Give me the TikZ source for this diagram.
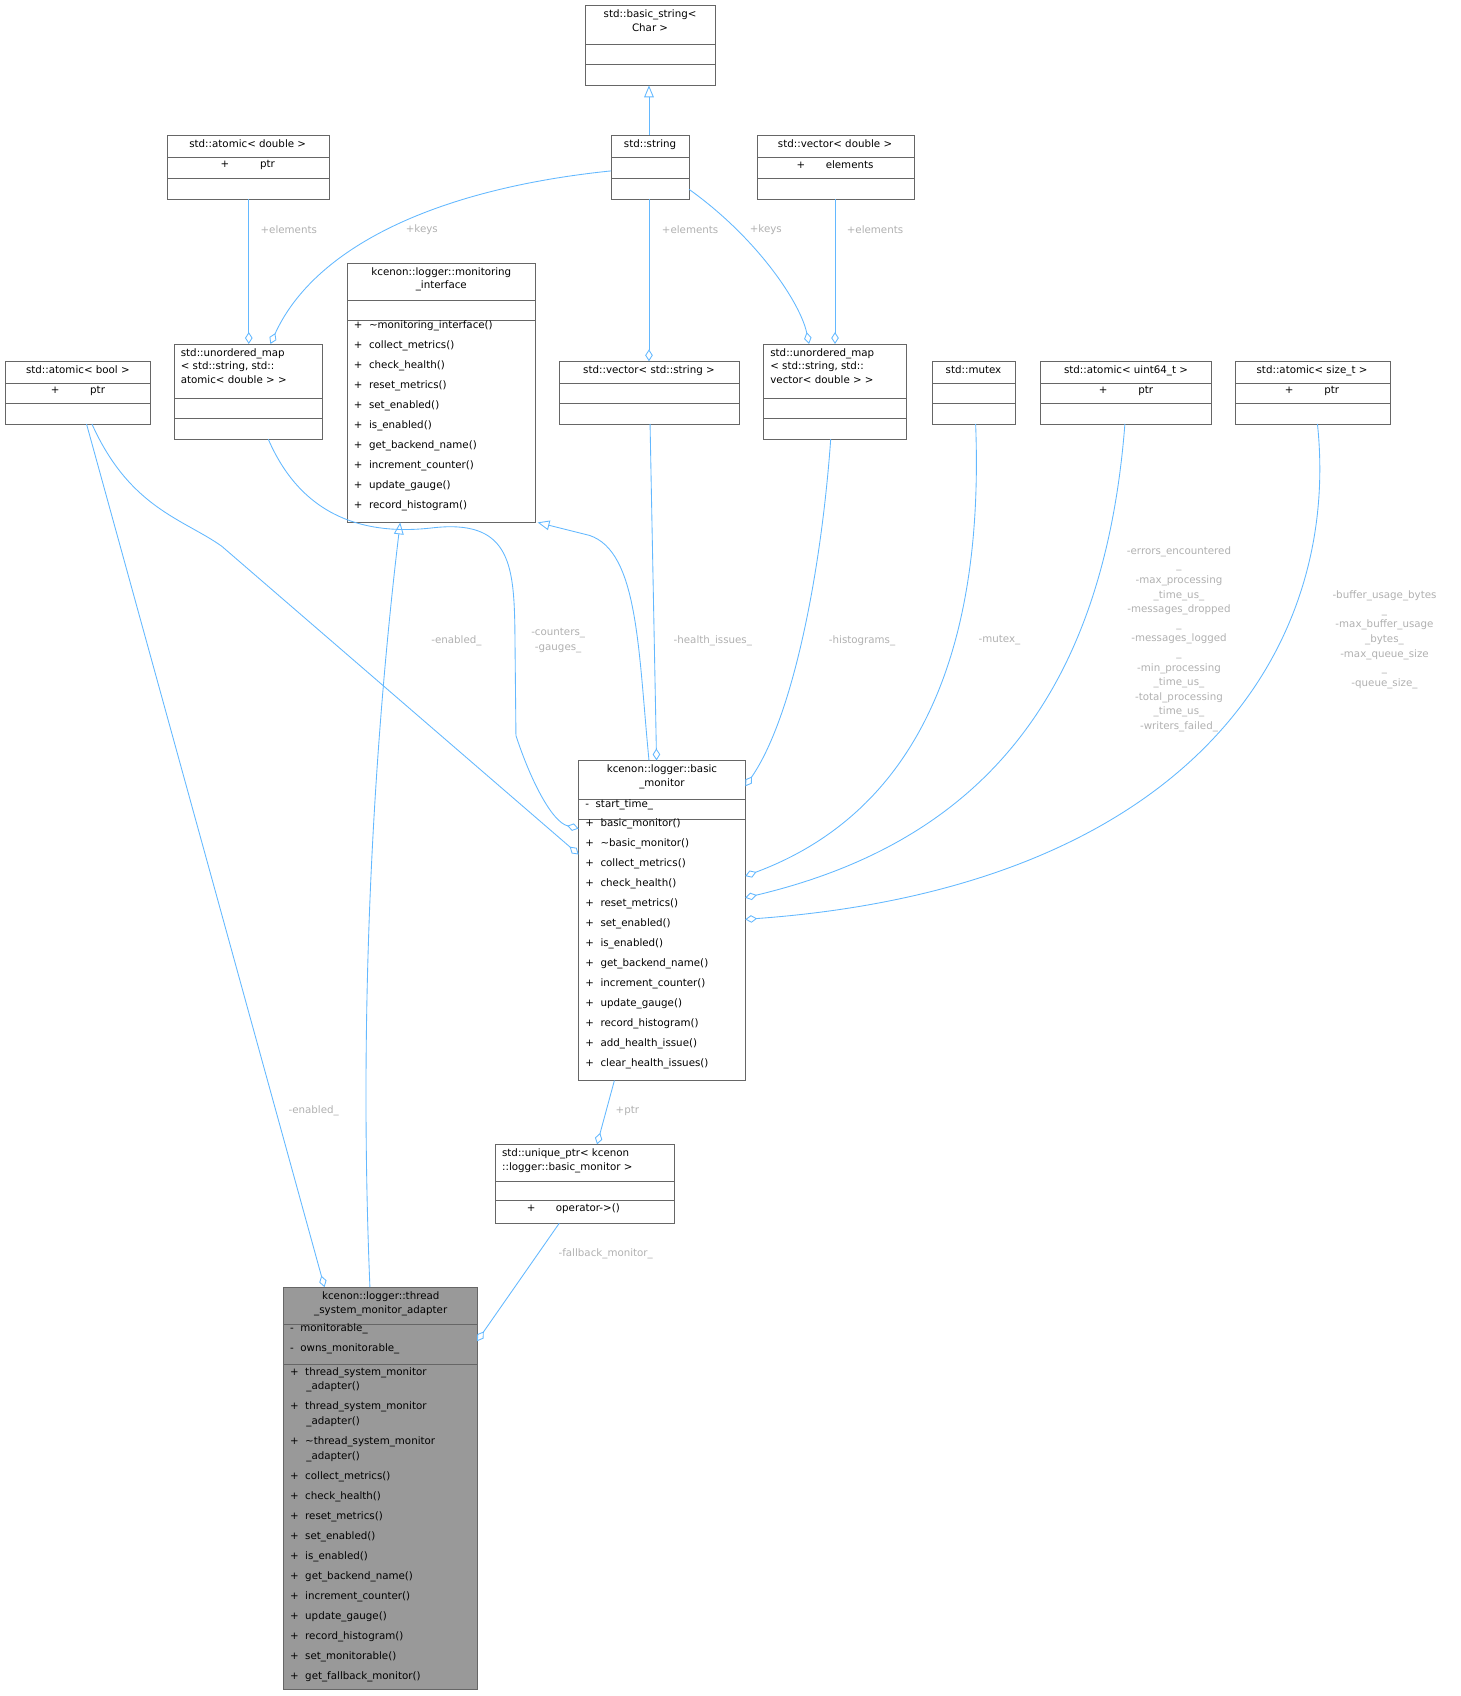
\documentclass[tikz,border=0pt]{standalone}
\usepackage{fontspec}
\setmainfont{DejaVu Sans}
\usetikzlibrary{arrows.meta}
\definecolor{edge}{HTML}{63B8FF}
\definecolor{lbl}{HTML}{B0B0B0}
\definecolor{bx}{HTML}{666666}
\newcommand\cls[7]{\draw[bx,fill=#7] (#1,#2) rectangle (#3,#4); \draw[bx,fill=#7] (#1,#4) rectangle (#3,#5); \draw[bx,fill=#7] (#1,#5) rectangle (#3,#6);}
\tikzset{
 ttl/.style={font=\fontsize{9.5}{12.5}\selectfont, align=center, inner sep=0pt, anchor=north},
 mem/.style={font=\fontsize{9.5}{18.5}\selectfont, align=left, inner sep=0pt, anchor=north west},
 e/.style={draw=edge, line width=0.8pt},
 agg/.style={e, -{Diamond[open,length=11,width=7]}},
 inh/.style={e, -{Triangle[open,length=11,width=9]}},
 lb/.style={text=lbl, font=\fontsize{9.5}{13.5}\selectfont, align=center, inner sep=1pt}
}
\begin{document}
\begin{tikzpicture}[x=1pt,y=-1pt]
\useasboundingbox (0,0) rectangle (1350,1568);
% boxes
\cls{541}{5}{661}{41}{59}{79}{white}
\node[ttl] (bs) at (601,9) {std::basic\_string\textless\\Char \textgreater};
\cls{565}{125}{637}{145}{165}{184}{white}
\node[ttl] (st) at (601,129) {std::string};
\cls{155}{125}{304}{145}{165}{184}{white}
\node[ttl] (ad) at (229,129) {std::atomic\textless{} double \textgreater};
\node[ttl] at (229,148) {+\hspace{3em}ptr};
\cls{700}{125}{845}{145}{165}{184}{white}
\node[ttl] (vd) at (772,129) {std::vector\textless{} double \textgreater};
\node[ttl] at (772,148) {+\hspace{2em}elements};
\cls{321}{243}{495}{278}{296}{483}{white}
\node[ttl] (mi) at (408,247) {kcenon::logger::monitoring\\\_interface};
\node[mem] at (327,296) {+\ \ \textasciitilde monitoring\_interface()\\+\ \ collect\_metrics()\\+\ \ check\_health()\\+\ \ reset\_metrics()\\+\ \ set\_enabled()\\+\ \ is\_enabled()\\+\ \ get\_backend\_name()\\+\ \ increment\_counter()\\+\ \ update\_gauge()\\+\ \ record\_histogram()};
\cls{161}{318}{298}{368}{387}{406}{white}
\node[ttl,align=left,anchor=north west] (ua) at (167,322) {std::unordered\_map\\\textless{} std::string, std::\\atomic\textless{} double \textgreater{} \textgreater};
\cls{5}{334}{139}{354}{373}{392}{white}
\node[ttl] (ab) at (72,338) {std::atomic\textless{} bool \textgreater};
\node[ttl] at (72,357) {+\hspace{3em}ptr};
\cls{517}{334}{683}{354}{373}{392}{white}
\node[ttl] (vs) at (600,338) {std::vector\textless{} std::string \textgreater};
\cls{706}{318}{838}{368}{387}{406}{white}
\node[ttl,align=left,anchor=north west] (uv) at (712,322) {std::unordered\_map\\\textless{} std::string, std::\\vector\textless{} double \textgreater{} \textgreater};
\cls{862}{334}{939}{354}{373}{392}{white}
\node[ttl] (mx) at (900,338) {std::mutex};
\cls{962}{334}{1120}{354}{373}{392}{white}
\node[ttl] (au) at (1041,338) {std::atomic\textless{} uint64\_t \textgreater};
\node[ttl] at (1041,357) {+\hspace{3em}ptr};
\cls{1142}{334}{1285}{354}{373}{392}{white}
\node[ttl] (az) at (1213,338) {std::atomic\textless{} size\_t \textgreater};
\node[ttl] at (1213,357) {+\hspace{3em}ptr};
\cls{535}{703}{689}{739}{757}{999}{white}
\node[ttl] (bm) at (612,707) {kcenon::logger::basic\\\_monitor};
\node[mem] at (541,739) {-\ \ start\_time\_};
\node[mem] at (541,757) {+\ \ basic\_monitor()\\+\ \ \textasciitilde basic\_monitor()\\+\ \ collect\_metrics()\\+\ \ check\_health()\\+\ \ reset\_metrics()\\+\ \ set\_enabled()\\+\ \ is\_enabled()\\+\ \ get\_backend\_name()\\+\ \ increment\_counter()\\+\ \ update\_gauge()\\+\ \ record\_histogram()\\+\ \ add\_health\_issue()\\+\ \ clear\_health\_issues()};
\cls{458}{1058}{623}{1092}{1110}{1131}{white}
\node[ttl,align=left,anchor=north west] (up) at (464,1062) {std::unique\_ptr\textless{} kcenon\\::logger::basic\_monitor \textgreater};
\node[ttl] at (530,1113) {+\hspace{2em}operator-\textgreater()};
\cls{262}{1190}{441}{1224}{1261}{1562}{black!40}
\node[ttl] (tm) at (352,1194) {kcenon::logger::thread\\\_system\_monitor\_adapter};
\node[mem] at (268,1224) {-\ \ monitorable\_\\-\ \ owns\_monitorable\_};
\node[mem,font=\fontsize{9.5}{13.5}\selectfont] at (268,1264) {+\ \ thread\_system\_monitor\\\ \ \ \ \ \_adapter()\\[5pt]+\ \ thread\_system\_monitor\\\ \ \ \ \ \_adapter()\\[5pt]+\ \ \textasciitilde thread\_system\_monitor\\\ \ \ \ \ \_adapter()};
\node[mem] at (268,1360) {+\ \ collect\_metrics()\\+\ \ check\_health()\\+\ \ reset\_metrics()\\+\ \ set\_enabled()\\+\ \ is\_enabled()\\+\ \ get\_backend\_name()\\+\ \ increment\_counter()\\+\ \ update\_gauge()\\+\ \ record\_histogram()\\+\ \ set\_monitorable()\\+\ \ get\_fallback\_monitor()};
% edges
\draw[inh] (600,125) -- (600,79);
\draw[agg] (230,184) -- (230,318);
\node[lb] at (267,212) {+elements};
\draw[agg] (565,158) .. controls (400,175) and (290,230) .. (250,318);
\node[lb] at (390,212) {+keys};
\draw[agg] (600,184) -- (600,334);
\node[lb] at (638,212) {+elements};
\draw[agg] (637,175) .. controls (700,220) and (740,280) .. (748,318);
\node[lb] at (708,212) {+keys};
\draw[agg] (772,184) -- (772,318);
\node[lb] at (809,212) {+elements};
\draw[agg] (85,392) .. controls (120,470) and (170,480) .. (205,505) -- (535,790);
\node[lb] at (422,592) {-enabled\_};
\draw[agg] (248,406) .. controls (280,480) and (340,495) .. (400,488) .. controls (470,480) and (475,520) .. (476,580) -- (477,680) .. controls (490,720) and (510,760) .. (535,766);
\node[lb] at (516,592) {-counters\_\\-gauges\_};
\draw[inh] (600,703) .. controls (590,600) and (590,510) .. (545,495) -- (497,483);
\draw[agg] (601,392) -- (607,703);
\node[lb] at (659,592) {-health\_issues\_};
\draw[agg] (768,406) .. controls (760,520) and (735,660) .. (689,727);
\node[lb] at (797,592) {-histograms\_};
\draw[agg] (902,392) .. controls (910,600) and (850,750) .. (689,810);
\node[lb] at (924,592) {-mutex\_};
\draw[agg] (1040,392) .. controls (1020,650) and (900,780) .. (689,830);
\node[lb,anchor=north] at (1090,504) {-errors\_encountered\\\_\\-max\_processing\\\_time\_us\_\\-messages\_dropped\\\_\\-messages\_logged\\\_\\-min\_processing\\\_time\_us\_\\-total\_processing\\\_time\_us\_\\-writers\_failed\_};
\draw[agg] (1218,392) .. controls (1240,600) and (1100,820) .. (689,850);
\node[lb,anchor=north] at (1280,545) {-buffer\_usage\_bytes\\\_\\-max\_buffer\_usage\\\_bytes\_\\-max\_queue\_size\\\_\\-queue\_size\_};
\draw[agg] (568,999) -- (552,1058);
\node[lb] at (580,1027) {+ptr};
\draw[agg] (517,1131) -- (441,1240);
\node[lb] at (560,1159) {-fallback\_monitor\_};
\draw[agg] (80,392) -- (300,1190);
\node[lb] at (290,1027) {-enabled\_};
\draw[inh] (342,1190) .. controls (330,900) and (350,650) .. (370,483);
\end{tikzpicture}
\end{document}
